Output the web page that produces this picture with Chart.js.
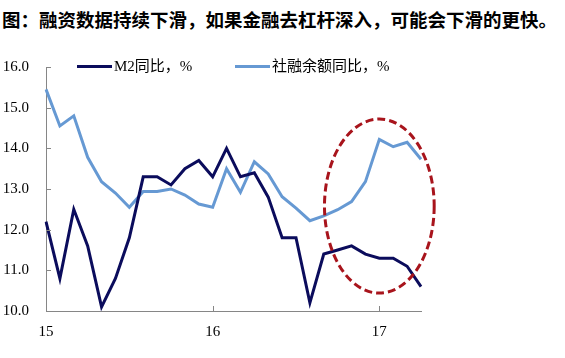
<!DOCTYPE html>
<html><head><meta charset="utf-8">
<script src="https://cdn.jsdelivr.net/npm/chart.js@4/dist/chart.umd.min.js"></script>
<style>
html,body{margin:0;padding:0;background:#fff;}
#wrap{position:relative;width:565px;height:358px;overflow:hidden;background:#fff;}
#title{position:absolute;left:2px;top:7px;font-weight:bold;font-size:18.5px;font-family:"Noto Sans CJK SC",sans-serif;white-space:nowrap;color:#000;line-height:24px;}
.item{position:absolute;top:57px;display:flex;align-items:center;font-size:15px;font-family:"Liberation Serif","Noto Sans CJK SC",serif;color:#000;line-height:18px;white-space:nowrap;}
.swatch{width:35px;height:3px;margin-right:2px;}
canvas{position:absolute;left:0;top:0;}
</style></head>
<body>
<div id="wrap">
  <div id="title">图：融资数据持续下滑，如果金融去杠杆深入，可能会下滑的更快。</div>
  <canvas id="c" width="565" height="358"></canvas>
</div>
<script>
// Monthly categories (Dec 2014 – Mar 2017)
const months = ['2014-12','2015-01','2015-02','2015-03','2015-04','2015-05','2015-06','2015-07','2015-08','2015-09','2015-10','2015-11',
  '2015-12','2016-01','2016-02','2016-03','2016-04','2016-05','2016-06','2016-07','2016-08','2016-09','2016-10','2016-11',
  '2016-12','2017-01','2017-02','2017-03'];
const xTickLabels = ['15','','','','','','','','','','','','16','','','','','','','','','','','','17','','',''];
const seriesNames = ['M2同比，%', '社融余额同比，%'];
const m2 = [12.2,10.8,12.5,11.6,10.1,10.8,11.8,13.3,13.3,13.1,13.5,13.7,13.3,14.0,13.3,13.4,12.8,11.8,11.8,10.2,11.4,11.5,11.6,11.4,11.3,11.3,11.1,10.6];
const tsf = [15.45,14.55,14.8,13.78,13.18,12.9,12.55,12.94,12.94,13.0,12.85,12.63,12.55,13.5,12.92,13.67,13.37,12.81,12.53,12.22,12.34,12.49,12.69,13.18,14.22,14.04,14.15,13.73];
const yTicks = [10,11,12,13,14,15,16];
const colors = ['#0B0C5C', '#6699D3'];
const legendLeft = [77, 235];
const ellipse = {centerIndex: 24, centerValue: 12.58, radiusIndex: 3.95, radiusValue: 2.14, color: '#A8141C'};

const axisColor = '#868686';

// HTML legend
const wrap = document.getElementById('wrap');
seriesNames.forEach((n, i) => {
  const it = document.createElement('div');
  it.className = 'item';
  it.style.left = legendLeft[i] + 'px';
  const sw = document.createElement('span');
  sw.className = 'swatch';
  sw.style.background = colors[i];
  const tx = document.createElement('span');
  tx.textContent = n;
  it.appendChild(sw); it.appendChild(tx);
  wrap.appendChild(it);
});

const extras = {
  id: 'extras',
  afterDatasetsDraw(chart) {
    const ctx = chart.ctx, x = chart.scales.x, y = chart.scales.y;
    ctx.save();
    // inner tick marks
    ctx.strokeStyle = axisColor; ctx.lineWidth = 1;
    yTicks.forEach(v => {
      const py = Math.round(y.getPixelForValue(v)) + 0.5;
      ctx.beginPath(); ctx.moveTo(x.left, py); ctx.lineTo(x.left + 5, py); ctx.stroke();
    });
    xTickLabels.forEach((l, i) => {
      if (!l || i === 0) return;
      const px = Math.round(x.getPixelForValue(i)) + 0.5;
      ctx.beginPath(); ctx.moveTo(px, y.bottom); ctx.lineTo(px, y.bottom - 5); ctx.stroke();
    });
    // dashed ellipse annotation
    const cx = x.getPixelForValue(ellipse.centerIndex);
    const cy = y.getPixelForValue(ellipse.centerValue);
    const rx = Math.abs(x.getPixelForValue(ellipse.centerIndex + ellipse.radiusIndex) - cx);
    const ry = Math.abs(y.getPixelForValue(ellipse.centerValue + ellipse.radiusValue) - cy);
    ctx.strokeStyle = ellipse.color; ctx.lineWidth = 3; ctx.setLineDash([8, 4]);
    ctx.beginPath(); ctx.ellipse(cx, cy, rx, ry, 0, 0, Math.PI * 2); ctx.stroke();
    ctx.restore();
  }
};

new Chart(document.getElementById('c'), {
  type: 'line',
  data: {
    labels: months,
    datasets: [
      {label: seriesNames[0], data: m2, borderColor: colors[0], backgroundColor: colors[0], borderWidth: 3, pointRadius: 0, tension: 0},
      {label: seriesNames[1], data: tsf, borderColor: colors[1], backgroundColor: colors[1], borderWidth: 3, pointRadius: 0, tension: 0}
    ]
  },
  options: {
    responsive: false,
    animation: false,
    layout: {padding: {left: 0, top: 67, right: 144, bottom: 0}},
    plugins: {legend: {display: false}, title: {display: false}, tooltip: {enabled: false}},
    scales: {
      x: {
        offset: false,
        grid: {display: false, drawTicks: false},
        border: {display: true, color: axisColor, width: 1},
        afterFit(s) { s.height = 47; },
        ticks: {
          autoSkip: false, maxRotation: 0, padding: 12, color: '#000',
          font: {family: 'Liberation Serif', size: 15},
          callback: (v, i) => xTickLabels[i] ? xTickLabels[i] : null
        }
      },
      y: {
        min: 10, max: 16,
        grid: {display: false, drawTicks: false},
        border: {display: true, color: axisColor, width: 1},
        afterFit(s) { s.width = 46; },
        afterBuildTicks(s) { s.ticks = yTicks.map(v => ({value: v})); },
        ticks: {
          padding: 17, color: '#000',
          font: {family: 'Liberation Serif', size: 15},
          callback: v => Number(v).toFixed(1)
        }
      }
    }
  },
  plugins: [extras]
});
</script>
</body></html>
